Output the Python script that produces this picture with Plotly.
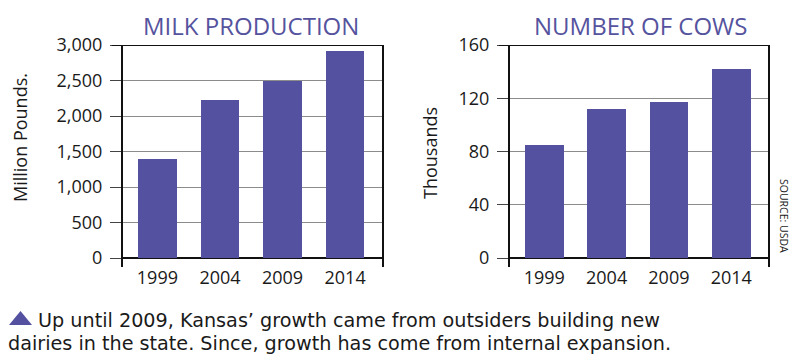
import plotly.graph_objects as go

years = ["1999", "2004", "2009", "2014"]
milk_production = [1390, 2230, 2500, 2920]   # million pounds
cows = [85, 112, 117, 142]                   # thousands

milk_ticks = [0, 500, 1000, 1500, 2000, 2500, 3000]
cow_ticks = [0, 40, 80, 120, 160]

title_left = "MILK PRODUCTION"
title_right = "NUMBER OF COWS"
ytitle_left = "Million Pounds."
ytitle_right = "Thousands"
source = "SOURCE: USDA"
caption1 = "Up until 2009, Kansas\u2019 growth came from outsiders building new"
caption2 = "dairies in the state. Since, growth has come from internal expansion."

# page body adds an 8px offset; work in reference pixels and compensate
OFF = 8
W, H = 800 - OFF, 361 - OFF
BAR = "#5451a1"
TITLE_C = "#55539e"
FONT = "Open Sans"
CAP_FONT = "DejaVu Sans"
TXT = "#1a1a1a"

def px_x(x):
    return (x - OFF) / W

def px_y(y):
    return 1 - (y - OFF) / H

fig = go.Figure()
fig.add_trace(go.Bar(x=years, y=milk_production, marker=dict(color=BAR, line=dict(width=0)),
                     width=0.62, xaxis="x", yaxis="y", showlegend=False))
fig.add_trace(go.Bar(x=years, y=cows, marker=dict(color=BAR, line=dict(width=0)),
                     width=0.62, xaxis="x2", yaxis="y2", showlegend=False))

top, bottom, zero = 45, 267, 258
ydom = [px_y(bottom), px_y(top)]

def yrange(maxv):
    scale = (zero - top) / maxv
    return [-(bottom - zero) / scale, maxv]

xcommon = dict(type="category", range=[-0.55, 3.59], showline=False, showgrid=False,
               zeroline=False, ticks="", tickfont=dict(family=FONT, size=18, color=TXT),
               ticklabelstandoff=-2, automargin=False, fixedrange=True)
ycommon = dict(showgrid=True, gridcolor="#8c8c8c", gridwidth=1, zeroline=True,
               zerolinecolor="#111", zerolinewidth=2, showline=True, mirror=True,
               linecolor="#111", linewidth=2, ticks="outside", ticklen=11,
               tickcolor="#444", tickwidth=1, tickfont=dict(family=FONT, size=18, color=TXT),
               ticklabelstandoff=4, automargin=False, fixedrange=True)

fig.update_layout(
    template="none", autosize=False,
    width=W, height=H, margin=dict(l=0, r=0, t=0, b=0, pad=0),
    paper_bgcolor="white", plot_bgcolor="white", bargap=0,
    xaxis=dict(domain=[px_x(123), px_x(382)], anchor="y", **xcommon),
    yaxis=dict(domain=ydom, anchor="x", range=yrange(3000), tickvals=milk_ticks,
               tickformat=",", **ycommon),
    xaxis2=dict(domain=[px_x(510), px_x(768)], anchor="y2", **xcommon),
    yaxis2=dict(domain=ydom, anchor="x2", range=yrange(160), tickvals=cow_ticks, **ycommon),
)

# black top border lines (including tick stub)
for xr, yr, maxv, plotw in [("x domain", "y", 3000, 259), ("x2 domain", "y2", 160, 258)]:
    fig.add_shape(type="line", xref=xr, yref=yr, x0=-11 / plotw, x1=1, y0=maxv, y1=maxv,
                  line=dict(color="#111", width=2), layer="above")

ann = []
ann.append(dict(text=title_left, x=px_x(251), y=1, yanchor="top", borderpad=0,
                font=dict(family=FONT, size=24, color=TITLE_C)))
ann.append(dict(text=title_right, x=px_x(640), y=1, yanchor="top", borderpad=0,
                font=dict(family=FONT, size=24, color=TITLE_C)))
ann.append(dict(text=ytitle_left, x=px_x(20), y=px_y(138), textangle=-90, font=dict(family=FONT, size=18, color=TXT)))
ann.append(dict(text=ytitle_right, x=px_x(430), y=px_y(153), textangle=-90, font=dict(family=FONT, size=18, color=TXT)))
ann.append(dict(text=source, x=px_x(784), y=px_y(216), textangle=90, font=dict(family=FONT, size=10.5, color=TXT)))
for a in ann:
    a.setdefault("yanchor", "middle")
    a.update(xref="paper", yref="paper", showarrow=False, xanchor="center")
fig.update_layout(annotations=ann)

fig.add_annotation(text=caption1, x=px_x(37), y=px_y(320.5), xref="paper", yref="paper",
                   showarrow=False, xanchor="left", yanchor="middle", borderpad=0,
                   font=dict(family=CAP_FONT, size=19.2, color=TXT))
fig.add_annotation(text=caption2, x=px_x(7), y=px_y(343), xref="paper", yref="paper",
                   showarrow=False, xanchor="left", yanchor="middle", borderpad=0,
                   font=dict(family=CAP_FONT, size=19.2, color=TXT))

# decorative triangle bullet
fig.add_shape(type="path", xref="paper", yref="paper",
              path=f"M {px_x(9)} {px_y(325)} L {px_x(32)} {px_y(325)} L {px_x(20.5)} {px_y(311)} Z",
              fillcolor=BAR, line=dict(width=0))

fig.write_html("out.html")
